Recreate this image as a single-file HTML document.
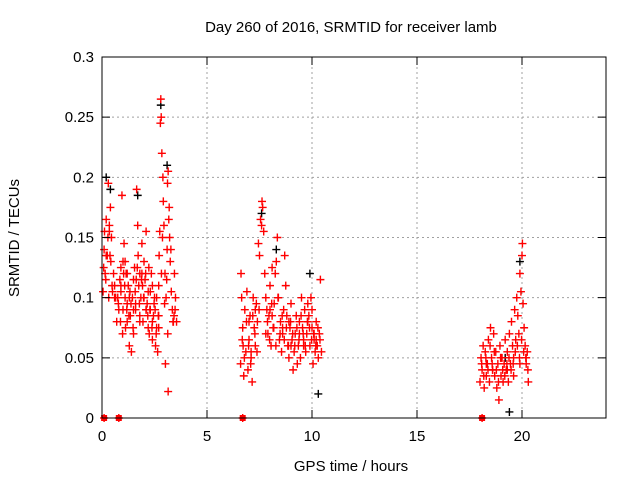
<!DOCTYPE html>
<html><head><meta charset="utf-8"><style>
html,body{margin:0;padding:0;background:#fff;}
svg{display:block;font-family:"Liberation Sans",sans-serif;}
</style></head><body>
<svg id="chart" width="640" height="480" viewBox="0 0 640 480">
<rect width="640" height="480" fill="#fff"/>
<text x="351" y="32" font-size="15" text-anchor="middle">Day 260 of 2016, SRMTID for receiver lamb</text>
<g id="grid"></g><g id="marks"></g><g id="axes"></g>
<text x="351" y="471" font-size="15" text-anchor="middle">GPS time / hours</text>
<text transform="translate(19,238) rotate(-90)" font-size="15" text-anchor="middle">SRMTID / TECUs</text>
</svg>
<script>
const xTicks=[0,5,10,15,20];
const yTicks=[0,0.05,0.1,0.15,0.2,0.25,0.3];
const yTickLabels=["0","0.05","0.1","0.15","0.2","0.25","0.3"];
const redT=[0.05,0.1,0.12,0.15,0.2,0.25,0.3,0.32,0.35,0.4,0.42,0.45,0.5,0.55,0.6,0.7,0.75,0.8,0.85,0.9,0.95,1.0,1.05,1.1,1.12,1.15,1.2,1.25,1.3,1.35,1.4,1.45,1.5,1.55,1.6,1.65,1.7,1.72,1.75,1.8,1.85,1.9,1.95,2.0,2.05,2.1,2.15,2.2,2.25,2.3,2.35,2.4,2.45,2.5,2.55,2.6,2.65,2.7,2.72,2.75,2.78,2.8,2.82,2.85,2.9,2.92,2.95,3.0,3.02,3.05,3.1,3.12,3.15,3.2,3.22,3.25,3.3,3.35,3.4,3.45,3.5,3.55,3.15,0.9,1.0,1.1,1.2,1.3,1.5,1.6,1.8,1.9,2.0,2.1,2.2,2.3,2.4,2.6,2.7,0.2,0.35,
0.08,0.18,0.28,0.38,0.48,0.65,0.78,0.88,0.98,1.08,1.18,1.28,1.38,1.48,1.58,1.68,1.78,1.88,1.98,2.08,2.18,2.28,2.38,2.48,2.58,2.68,2.88,2.98,3.08,3.18,3.28,3.38,3.48,1.03,1.33,1.63,1.93,2.23,2.53,2.83,3.13,3.43,0.6,0.9,1.2,1.5,1.8,2.1,2.4,2.7,
6.6,6.62,6.65,6.7,6.72,6.75,6.8,6.85,6.9,6.95,7.0,7.05,7.1,7.15,7.2,7.25,7.3,7.35,7.4,7.45,7.5,7.55,7.6,7.62,7.65,7.7,7.75,7.8,7.85,7.9,7.95,8.0,8.05,8.1,8.15,8.2,8.25,8.3,8.35,8.4,8.45,8.5,8.55,8.6,8.65,8.7,8.75,8.8,8.85,8.9,8.95,9.0,9.05,9.1,9.15,9.2,9.25,9.3,9.35,9.4,9.45,9.5,9.55,9.6,9.65,9.7,9.75,9.8,9.85,9.9,9.95,10.0,10.05,10.1,10.15,10.2,10.25,10.3,10.35,10.4,10.45,7.0,7.3,7.8,8.1,8.6,9.0,9.4,9.8,10.0,10.2,
6.68,6.78,6.88,6.98,7.08,7.18,7.28,7.38,7.48,7.88,7.98,8.08,8.18,8.28,8.38,8.48,8.58,8.68,8.78,8.88,8.98,9.08,9.18,9.28,9.38,9.48,9.58,9.68,9.78,9.88,9.98,10.08,10.18,10.28,10.38,7.1,8.0,8.9,9.6,10.1,
18.0,18.05,18.1,18.15,18.2,18.25,18.3,18.35,18.4,18.45,18.5,18.55,18.6,18.65,18.7,18.75,18.8,18.85,18.9,18.95,19.0,19.05,19.1,19.15,19.2,19.25,19.3,19.35,19.4,19.45,19.5,19.55,19.6,19.65,19.7,19.75,19.8,19.85,19.9,19.95,20.0,20.02,20.05,20.1,20.15,20.2,20.25,20.3,18.3,18.6,19.0,19.3,19.6,19.9,20.2,
18.08,18.18,18.28,18.38,18.48,18.58,18.68,18.78,18.88,18.98,19.08,19.18,19.28,19.38,19.48,19.58,19.68,19.78,19.88,19.98,20.08,20.18,20.28,
0.1,0.8,6.7,18.1];
const redV=[0.105,0.14,0.155,0.12,0.165,0.135,0.195,0.1,0.16,0.175,0.13,0.15,0.105,0.12,0.11,0.08,0.1,0.09,0.115,0.125,0.185,0.13,0.145,0.1,0.075,0.12,0.095,0.11,0.06,0.085,0.055,0.1,0.07,0.125,0.09,0.19,0.16,0.135,0.11,0.12,0.1,0.145,0.08,0.13,0.115,0.155,0.095,0.105,0.07,0.09,0.12,0.065,0.085,0.1,0.06,0.075,0.055,0.11,0.135,0.155,0.245,0.265,0.25,0.22,0.2,0.18,0.16,0.12,0.045,0.1,0.14,0.195,0.205,0.175,0.15,0.13,0.105,0.09,0.08,0.12,0.1,0.08,0.022,0.11,0.09,0.13,0.08,0.1,0.115,0.095,0.085,0.12,0.1,0.09,0.075,0.105,0.11,0.1,0.085,0.135,0.155,
0.125,0.115,0.15,0.135,0.11,0.1,0.095,0.08,0.07,0.11,0.09,0.085,0.095,0.075,0.105,0.125,0.095,0.115,0.1,0.12,0.085,0.09,0.075,0.095,0.07,0.085,0.15,0.095,0.115,0.165,0.14,0.08,0.09,0.12,0.105,0.115,0.11,0.125,0.09,0.12,0.07,0.085,0.1,0.105,0.12,0.09,0.08,0.09,0.08,0.075,
0.045,0.12,0.1,0.075,0.06,0.035,0.09,0.055,0.105,0.04,0.065,0.085,0.05,0.03,0.1,0.075,0.06,0.095,0.08,0.145,0.135,0.165,0.16,0.18,0.175,0.155,0.12,0.1,0.09,0.07,0.085,0.11,0.06,0.125,0.075,0.095,0.12,0.13,0.15,0.1,0.065,0.08,0.055,0.07,0.09,0.135,0.11,0.085,0.06,0.05,0.075,0.095,0.065,0.04,0.055,0.07,0.085,0.045,0.06,0.08,0.05,0.1,0.075,0.065,0.09,0.055,0.07,0.095,0.085,0.06,0.1,0.075,0.045,0.065,0.055,0.08,0.06,0.05,0.07,0.115,0.055,0.08,0.09,0.07,0.085,0.075,0.06,0.07,0.08,0.09,0.065,
0.065,0.05,0.08,0.06,0.045,0.085,0.07,0.055,0.09,0.08,0.065,0.095,0.075,0.06,0.1,0.07,0.085,0.065,0.075,0.06,0.08,0.07,0.06,0.075,0.065,0.085,0.07,0.06,0.08,0.075,0.065,0.07,0.06,0.075,0.065,0.055,0.09,0.08,0.06,0.07,
0.03,0.05,0.04,0.06,0.025,0.055,0.035,0.045,0.065,0.03,0.075,0.05,0.04,0.07,0.035,0.055,0.025,0.045,0.015,0.06,0.035,0.05,0.03,0.045,0.065,0.04,0.055,0.03,0.07,0.045,0.08,0.06,0.05,0.09,0.065,0.1,0.085,0.07,0.12,0.105,0.135,0.145,0.095,0.075,0.06,0.045,0.055,0.03,0.045,0.04,0.05,0.04,0.035,0.045,0.05,
0.045,0.035,0.05,0.04,0.06,0.045,0.055,0.04,0.03,0.05,0.04,0.035,0.045,0.05,0.04,0.045,0.055,0.06,0.05,0.065,0.055,0.05,0.04,
0,0,0,0];
const blackT=[0.2,0.4,1.7,2.8,3.1,7.6,8.3,9.9,10.3,19.2,19.9,19.4];
const blackV=[0.2,0.19,0.185,0.26,0.21,0.17,0.14,0.12,0.02,0.05,0.13,0.005];
const L=102,R=606,T=57,B=418,XMAX=24,YMAX=0.3;
const xs=t=>L+(R-L)*t/XMAX, ys=v=>B-(B-T)*v/YMAX;
const NS="http://www.w3.org/2000/svg";
function mk(tag,attrs,parent){const e=document.createElementNS(NS,tag);for(const k in attrs)e.setAttribute(k,attrs[k]);parent.appendChild(e);return e;}
const grid=document.getElementById('grid'),axes=document.getElementById('axes'),marks=document.getElementById('marks');
yTicks.forEach((v,i)=>{
 if(v>0&&v<YMAX){const g=mk('line',{x1:L,x2:R,y1:ys(v),y2:ys(v),stroke:'#a0a0a0','stroke-dasharray':'2,3'},grid);
 
 }
 const tk=mk('path',{d:`M${L},${ys(v)}h8M${R},${ys(v)}h-8`,stroke:'#000'},axes);
 
 
 const tx=mk('text',{x:L-8,y:ys(v)+5,'font-size':15,'text-anchor':'end'},axes);tx.textContent=yTickLabels[i];
 
 
});
xTicks.forEach(t=>{
 if(t>0){const g=mk('line',{x1:xs(t),x2:xs(t),y1:T,y2:B,stroke:'#a0a0a0','stroke-dasharray':'2,3'},grid);
 
 }
 const tk=mk('path',{d:`M${xs(t)},${B}v-8M${xs(t)},${T}v8`,stroke:'#000'},axes);
 
 
 const tx=mk('text',{x:xs(t),y:B+23,'font-size':15,'text-anchor':'middle'},axes);tx.textContent=String(t);
 
 
});
const fr=mk('rect',{x:L,y:T,width:R-L,height:B-T,fill:'none',stroke:'#000'},axes);


function plus(t,v,col,name){
 const x=xs(t),y=ys(v);
 const p=mk('path',{d:`M${x-4},${y}h8M${x},${y-4}v8`,stroke:col,'stroke-width':1.4},marks);
 
 
}
blackT.forEach((t,i)=>plus(t,blackV[i],'#000','black-point'));
redT.forEach((t,i)=>plus(t,redV[i],'#f00','red-point'));
redT.forEach((t,i)=>{ if(redV[i]===0){
 const sq=mk('rect',{x:xs(t)-3,y:B-3,width:6,height:6,fill:'#f00'},marks);
 
 
}});
</script>
</body></html>
